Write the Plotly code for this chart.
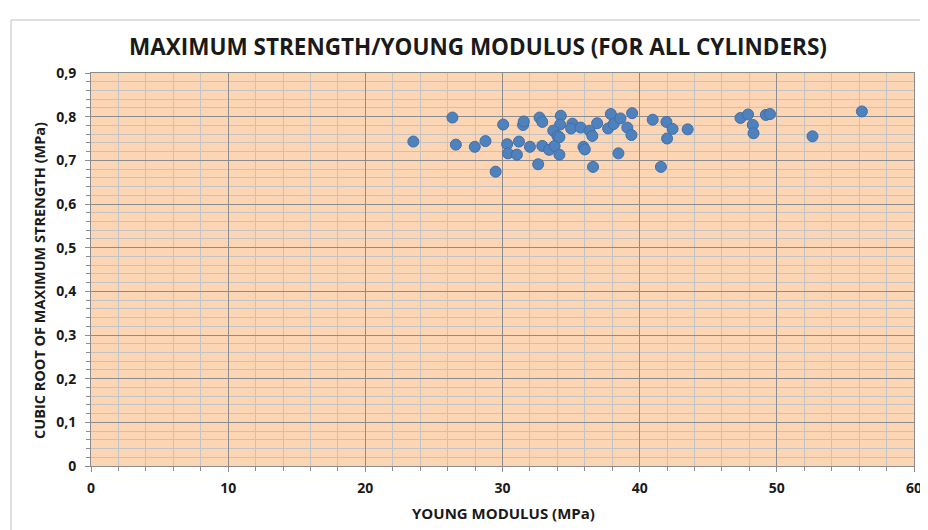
import plotly.graph_objects as go

young_modulus = [23.5, 26.35, 26.6, 27.98, 28.76, 30.05, 29.5, 30.34, 30.4, 31.05,
                 31.2, 31.5, 31.55, 32.7, 32.9, 32.0, 32.9, 32.6, 33.4, 33.8,
                 34.15, 34.25, 34.2, 33.7, 34.0, 34.15, 35.1, 35.0, 35.7, 36.35,
                 36.55, 35.9, 36.0, 36.6, 36.9, 37.7, 37.9, 38.1, 38.6, 38.45,
                 39.1, 39.4, 39.45, 40.95, 41.95, 42.4, 42.0, 43.5, 41.55, 47.35,
                 47.9, 48.25, 48.3, 49.2, 49.5, 52.6, 56.2]
cubic_root_strength = [0.743, 0.798, 0.736, 0.731, 0.744, 0.782, 0.674, 0.737, 0.716, 0.713,
                       0.743, 0.781, 0.789, 0.798, 0.788, 0.731, 0.733, 0.691, 0.724, 0.733,
                       0.713, 0.802, 0.782, 0.768, 0.756, 0.753, 0.784, 0.773, 0.775, 0.768,
                       0.756, 0.731, 0.725, 0.685, 0.785, 0.773, 0.806, 0.783, 0.796, 0.716,
                       0.775, 0.758, 0.808, 0.793, 0.788, 0.772, 0.750, 0.771, 0.685, 0.797,
                       0.805, 0.781, 0.762, 0.804, 0.806, 0.755, 0.812]

x_tick_values = [0, 10, 20, 30, 40, 50, 60]
x_tick_labels = ["0", "10", "20", "30", "40", "50", "60"]
y_tick_values = [0, 0.1, 0.2, 0.3, 0.4, 0.5, 0.6, 0.7, 0.8, 0.9]
y_tick_labels = ["0", "0,1", "0,2", "0,3", "0,4", "0,5", "0,6", "0,7", "0,8", "0,9"]

title_text = "MAXIMUM STRENGTH/YOUNG MODULUS (FOR ALL CYLINDERS)"
x_title = "YOUNG MODULUS (MPa)"
y_title = "CUBIC ROOT OF MAXIMUM STRENGTH (MPa)"

FONT = "Open Sans"
TXT = "#1a1a1a"
major_grid = "#8c8c8c"
minor_grid = "#c3c3c3"

# the page body adds an 8px offset, so the figure is 8px smaller than the window
W, H = 920, 522
L, R, T, B = 83, 14, 65, 64
PW, PH = W - L - R, H - T - B

def px_x(page_x):
    return (page_x - 8 - L) / PW

def px_y(page_y):
    return 1 - (page_y - 8 - T) / PH

fig = go.Figure()
fig.add_trace(go.Scatter(
    x=young_modulus, y=cubic_root_strength, mode="markers",
    marker=dict(size=11, color="#4f81bd", line=dict(color="#3f6fa8", width=1)),
    showlegend=False,
))

fig.update_layout(
    width=W, height=H,
    margin=dict(l=L, r=R, t=T, b=B, autoexpand=False),
    paper_bgcolor="white",
    plot_bgcolor="#fcd5b5",
    font=dict(family=FONT, color=TXT),
    title=dict(text="<b>" + title_text + "</b>", x=(478 - 8) / W, xanchor="center",
               y=1 - 39 / H, yanchor="middle", automargin=False,
               font=dict(family=FONT, size=22.5, color=TXT)),
    xaxis=dict(
        range=[0, 60], tickvals=x_tick_values, ticktext=x_tick_labels,
        automargin=False,
        showgrid=True, gridcolor=major_grid, gridwidth=1,
        ticks="outside", ticklen=5, tickcolor=major_grid,
        showline=True, linecolor=major_grid, linewidth=1, mirror=True,
        zeroline=False, ticklabelstandoff=4,
        tickfont=dict(family=FONT, size=14, color=TXT, weight="bold"),
        minor=dict(dtick=2, showgrid=True, gridcolor=minor_grid, gridwidth=1,
                   ticks="outside", ticklen=4, tickcolor=major_grid),
    ),
    yaxis=dict(
        range=[0, 0.9], tickvals=y_tick_values, ticktext=y_tick_labels,
        automargin=False,
        showgrid=True, gridcolor=major_grid, gridwidth=1,
        ticks="outside", ticklen=5, tickcolor=major_grid,
        showline=True, linecolor=major_grid, linewidth=1, mirror=True,
        zeroline=False, ticklabelstandoff=6,
        tickfont=dict(family=FONT, size=14, color=TXT, weight="bold"),
        minor=dict(dtick=0.02, showgrid=True, gridcolor=minor_grid, gridwidth=1,
                   ticks="outside", ticklen=4, tickcolor=major_grid),
    ),
    annotations=[
        dict(text="<b>" + x_title + "</b>", xref="paper", yref="paper",
             x=px_x(503), y=px_y(513), xanchor="center", yanchor="middle",
             showarrow=False, font=dict(family=FONT, size=15, color=TXT)),
        dict(text="<b>" + y_title + "</b>", xref="paper", yref="paper",
             x=px_x(39), y=px_y(281), xanchor="center", yanchor="middle",
             textangle=-90, showarrow=False,
             font=dict(family=FONT, size=14.5, color=TXT)),
    ],
)

# chart area border
fig.add_shape(type="rect", xref="paper", yref="paper",
              x0=px_x(11), x1=px_x(925), y0=px_y(540), y1=px_y(20),
              line=dict(color="#bfbfbf", width=1), fillcolor="rgba(0,0,0,0)",
              layer="below")

fig.write_html("out.html")
